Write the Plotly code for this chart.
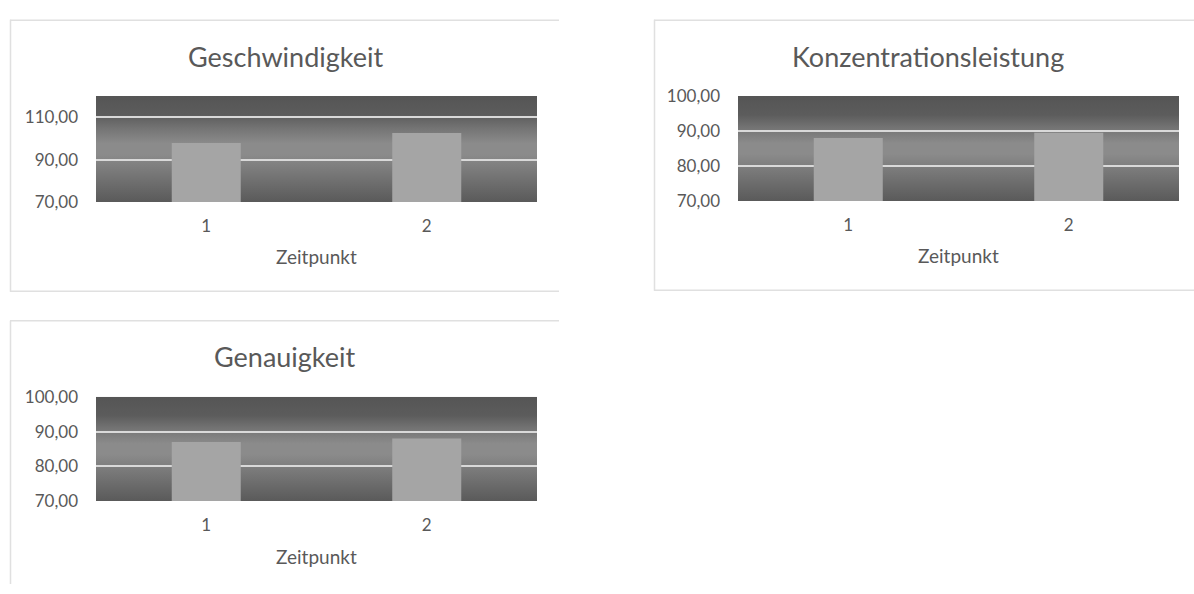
import base64

import plotly.graph_objects as go

W, H = 1194, 594

zeitpunkte = ["1", "2"]
geschwindigkeit = [97.8, 102.5]
konzentrationsleistung = [88.0, 89.5]
genauigkeit = [87.0, 88.0]

titles = ["Geschwindigkeit", "Konzentrationsleistung", "Genauigkeit"]
x_title = "Zeitpunkt"
y_ranges = [[70, 120], [70, 100], [70, 100]]
y_ticks = [[70, 90, 110], [70, 80, 90, 100], [70, 80, 90, 100]]

FONT = "Lato"
TEXT = "#595959"
BAR = "#a5a5a5"
GRID = "#d9d9d9"
BORDER = "#e0e0e0"

# pixel boxes of each plot area: x0, x1, y0 (top), y1 (bottom); title centre
panels = [
    dict(box=(96, 537, 88, 198), title=(285, 47), xlab=254),
    dict(box=(738, 1179, 88, 197), title=(928, 47), xlab=253),
    dict(box=(96, 537, 400, 508), title=(285, 358), xlab=565),
]
series = [geschwindigkeit, konzentrationsleistung, genauigkeit]

# plot-area background: vertical grey gradient as a small svg
grad_svg = """<svg xmlns='http://www.w3.org/2000/svg' width='10' height='100' preserveAspectRatio='none'>
<defs><linearGradient id='g' x1='0' y1='0' x2='0' y2='1'>
<stop offset='0' stop-color='#555555'/>
<stop offset='0.18' stop-color='#5c5c5c'/>
<stop offset='0.3' stop-color='#737373'/>
<stop offset='0.45' stop-color='#8b8b8b'/>
<stop offset='0.55' stop-color='#8b8b8b'/>
<stop offset='0.75' stop-color='#757575'/>
<stop offset='1' stop-color='#5a5a5a'/>
</linearGradient></defs>
<rect width='10' height='100' fill='url(#g)'/></svg>"""
grad_src = "data:image/svg+xml;base64," + base64.b64encode(grad_svg.encode()).decode()


def px(x):
    return x / W


def py(y):
    return 1 - y / H


fig = go.Figure()
shapes = []
annotations = []
images = []
layout = {}

for i, (p, vals, title) in enumerate(zip(panels, series, titles)):
    k = "" if i == 0 else str(i + 1)
    x0, x1, y0, y1 = p["box"]
    fig.add_trace(go.Bar(
        x=zeitpunkte, y=vals, xaxis="x" + k, yaxis="y" + k,
        marker=dict(color=BAR, line=dict(width=0)), showlegend=False,
    ))
    layout["xaxis" + k] = dict(
        domain=[px(x0), px(x1)], anchor="y" + k, type="category",
        showgrid=False, zeroline=False, showline=False, ticks="",
        ticklabelstandoff=12, tickfont=dict(family=FONT, size=17, color=TEXT),
    )
    layout["yaxis" + k] = dict(
        domain=[py(y1), py(y0)], anchor="x" + k, range=y_ranges[i],
        tickvals=y_ticks[i], tickformat=".2f", showgrid=True,
        gridcolor=GRID, gridwidth=2, zeroline=False, showline=False, ticks="",
        ticklabelstandoff=17, tickfont=dict(family=FONT, size=17, color=TEXT),
    )
    images.append(dict(
        source=grad_src, xref="paper", yref="paper",
        x=px(x0), y=py(y0), sizex=px(x1) - px(x0), sizey=py(y0) - py(y1),
        xanchor="left", yanchor="top", sizing="stretch", layer="below",
    ))
    tx, ty = p["title"]
    annotations.append(dict(
        text=title, x=px(tx), y=py(ty), xref="paper", yref="paper",
        showarrow=False, font=dict(family=FONT, size=27, color=TEXT),
        xanchor="center", yanchor="middle",
    ))
    annotations.append(dict(
        text=x_title, x=px((x0 + x1) / 2), y=py(p["xlab"]), xref="paper", yref="paper",
        showarrow=False, font=dict(family=FONT, size=19, color=TEXT),
        xanchor="center", yanchor="middle",
    ))

# light frames around the chart areas (open on some sides, like the screenshot)
frame_lines = [
    (10, 9.5, 559, 9.5), (10.5, 9, 10.5, 291), (10, 290.5, 559, 290.5),
    (654.5, 9, 654.5, 290), (654, 9.5, 1194, 9.5), (654, 289.5, 1194, 289.5),
    (10, 321, 559, 321), (10.5, 321, 10.5, 594),
]
for xa, ya, xb, yb in frame_lines:
    shapes.append(dict(
        type="line", xref="paper", yref="paper", x0=px(xa), y0=py(ya), x1=px(xb), y1=py(yb),
        line=dict(color=BORDER, width=1.5),
    ))

fig.update_layout(
    width=W, height=H, margin=dict(l=0, r=0, t=0, b=0),
    paper_bgcolor="white", plot_bgcolor="white",
    separators=",.", bargap=0.687,
    shapes=shapes, annotations=annotations, images=images,
    **layout,
)

# pin the graph to the top-left corner of the page
pin = (
    "document.body.style.margin='0';document.body.style.overflow='hidden';"
    "var d=document.getElementById('{plot_id}');"
    "d.style.position='fixed';d.style.top='0';d.style.left='0';"
)
fig.write_html("out.html", config={"displayModeBar": False}, post_script=pin)
